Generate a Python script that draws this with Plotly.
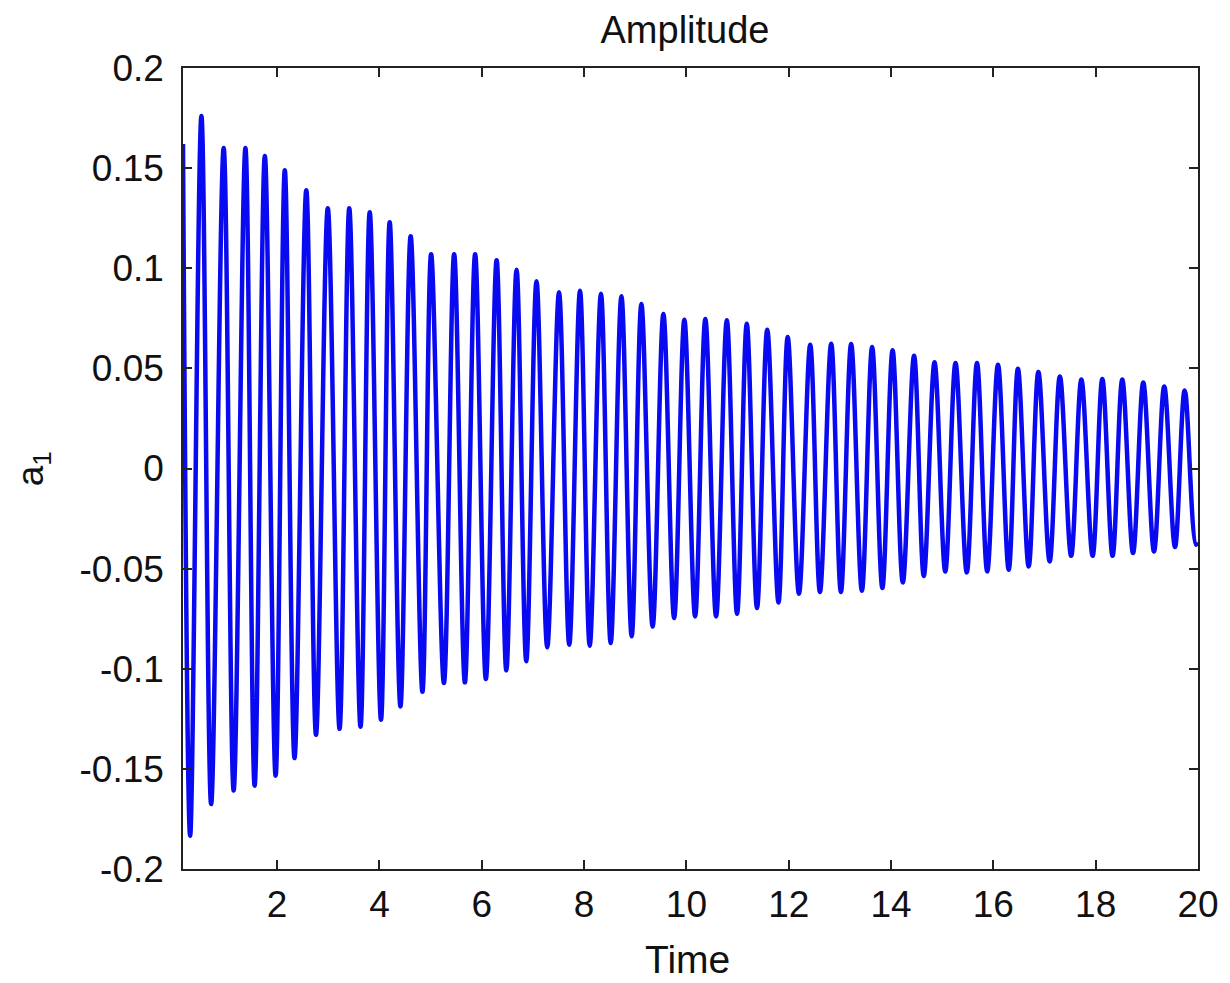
import plotly.graph_objects as go

# ---- data (time, a1) ----
start_time = [0.16]
start_value = [0.162]

peak_time = [0.52, 0.955, 1.38, 1.76, 2.15, 2.57, 2.99, 3.41, 3.81, 4.20, 4.61, 5.01,
             5.46, 5.87, 6.29, 6.68, 7.07, 7.51, 7.92, 8.33, 8.73, 9.12, 9.55, 9.96,
             10.37, 10.79, 11.18, 11.58, 11.98, 12.42, 12.83, 13.22, 13.63, 14.03, 14.45, 14.85,
             15.26, 15.68, 16.09, 16.48, 16.88, 17.30, 17.72, 18.13, 18.52, 18.93, 19.34, 19.74]
peak_value = [0.176, 0.160, 0.160, 0.156, 0.149, 0.139, 0.130, 0.130, 0.128, 0.123, 0.116, 0.107,
              0.107, 0.107, 0.104, 0.0993, 0.0935, 0.088, 0.0888, 0.0873, 0.086, 0.0822, 0.0772, 0.0743,
              0.0747, 0.074, 0.0723, 0.0693, 0.0657, 0.0618, 0.0623, 0.0622, 0.0607, 0.059, 0.0563, 0.053,
              0.0527, 0.0527, 0.0518, 0.0498, 0.0482, 0.046, 0.0444, 0.0447, 0.0444, 0.043, 0.041, 0.039]

trough_time = [0.30, 0.71, 1.15, 1.56, 1.97, 2.34, 2.76, 3.22, 3.63, 4.03, 4.41, 4.84,
               5.26, 5.67, 6.08, 6.48, 6.87, 7.28, 7.71, 8.11, 8.52, 8.93, 9.34, 9.76,
               10.17, 10.58, 10.99, 11.38, 11.80, 12.20, 12.61, 13.02, 13.43, 13.83, 14.23, 14.64,
               15.06, 15.48, 15.88, 16.30, 16.69, 17.10, 17.52, 17.94, 18.33, 18.73, 19.14, 19.55, 19.96]
trough_value = [-0.1834, -0.1676, -0.1608, -0.1584, -0.1534, -0.1446, -0.133, -0.130, -0.129, -0.1255, -0.1188, -0.1115,
                -0.1071, -0.1068, -0.1051, -0.1008, -0.0963, -0.0893, -0.088, -0.0885, -0.0872, -0.0838, -0.0789, -0.0747,
                -0.0739, -0.0739, -0.0725, -0.0697, -0.0669, -0.0625, -0.0617, -0.0617, -0.061, -0.0597, -0.0569, -0.0537,
                -0.0514, -0.0519, -0.0514, -0.0505, -0.0489, -0.0464, -0.0436, -0.0436, -0.0436, -0.0422, -0.0414, -0.0392, -0.038]

end_time = [20.0]
end_value = [-0.037]

x_tick_vals = [2, 4, 6, 8, 10, 12, 14, 16, 18, 20]
x_tick_text = ["2", "4", "6", "8", "10", "12", "14", "16", "18", "20"]
y_tick_vals = [0.2, 0.15, 0.1, 0.05, 0, -0.05, -0.1, -0.15, -0.2]
y_tick_text = ["0.2", "0.15", "0.1", "0.05", "0", "-0.05", "-0.1", "-0.15", "-0.2"]

# merge extrema in time order
pts = sorted(zip(start_time + peak_time + trough_time + end_time,
                 start_value + peak_value + trough_value + end_value))
t = [p[0] for p in pts]
a = [p[1] for p in pts]

FONT = "Liberation Sans, Arial, Helvetica, sans-serif"

fig = go.Figure()
fig.add_trace(go.Scatter(
    x=t, y=a, mode="lines",
    line=dict(color="#0a0af0", width=4.5, shape="spline", smoothing=1.0, simplify=False),
    showlegend=False, hoverinfo="x+y",
))

axis_common = dict(
    showline=True, linecolor="#222222", linewidth=1.5, mirror="ticks",
    ticks="inside", ticklen=9, tickwidth=1.5, tickcolor="#222222",
    showgrid=False, zeroline=False,
    tickfont=dict(family=FONT, size=37, color="#111111"),
)

W, H = 1222, 975

fig.update_layout(
    width=W, height=H,
    margin=dict(l=175, r=32, t=60, b=114),
    paper_bgcolor="white", plot_bgcolor="white",
    title=dict(text="Amplitude", x=677 / W, xanchor="center", y=1 - 22 / H, yanchor="middle",
               xref="container", yref="container", font=dict(family=FONT, size=38, color="#111111")),
    xaxis=dict(range=[0.16, 20], tickvals=x_tick_vals, ticktext=x_tick_text,
               ticklabelstandoff=2, **axis_common),
    yaxis=dict(range=[-0.2, 0.2], tickvals=y_tick_vals, ticktext=y_tick_text,
               ticklabelstandoff=10, **axis_common),
    annotations=[
        dict(text="Time", x=0.497, y=-0.113, xref="paper", yref="paper",
             xanchor="center", yanchor="middle", showarrow=False,
             font=dict(family=FONT, size=39, color="#111111")),
        dict(text="a<sub>1</sub>", x=-0.148, y=0.5, xref="paper", yref="paper",
             xanchor="center", yanchor="middle", showarrow=False, textangle=-90,
             font=dict(family=FONT, size=37, color="#111111")),
    ],
)

fig.write_html("out.html")
